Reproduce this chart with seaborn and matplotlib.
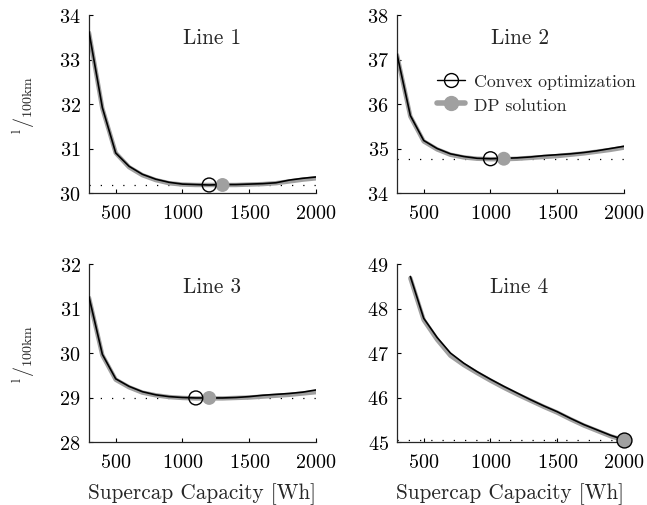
import matplotlib
matplotlib.use("Agg")
import matplotlib.pyplot as plt
import numpy as np
import pandas as pd
import seaborn as sns
from matplotlib.lines import Line2D

# supercap capacity grid [Wh]
cap = [300, 400, 500, 600, 700, 800, 900, 1000, 1100, 1200, 1300, 1400,
       1500, 1600, 1700, 1800, 1900, 2000]
cap4 = cap[1:]

# convex optimization results, l/100km
line1_cvx = [33.62, 31.92, 30.90, 30.60, 30.42, 30.31, 30.24, 30.20, 30.19, 30.18,
             30.19, 30.19, 30.20, 30.21, 30.23, 30.29, 30.33, 30.36]
line2_cvx = [37.12, 35.74, 35.18, 35.00, 34.88, 34.82, 34.78, 34.77, 34.78, 34.79,
             34.81, 34.84, 34.86, 34.88, 34.91, 34.95, 35.00, 35.05]
line3_cvx = [31.26, 29.97, 29.42, 29.25, 29.13, 29.06, 29.02, 29.00, 28.99, 28.99,
             28.99, 29.00, 29.02, 29.05, 29.07, 29.09, 29.12, 29.17]
line4_cvx = [48.72, 47.78, 47.35, 47.00, 46.77, 46.58, 46.41, 46.25, 46.10, 45.95,
             45.81, 45.68, 45.53, 45.39, 45.27, 45.15, 45.05]

# DP solutions
line1_dp = [33.60, 31.90, 30.90, 30.58, 30.40, 30.29, 30.22, 30.19, 30.18, 30.18,
            30.18, 30.18, 30.19, 30.20, 30.22, 30.26, 30.30, 30.33]
line2_dp = [37.10, 35.72, 35.16, 34.98, 34.86, 34.80, 34.77, 34.76, 34.76, 34.77,
            34.79, 34.81, 34.83, 34.86, 34.89, 34.93, 34.97, 35.02]
line3_dp = [31.24, 29.95, 29.40, 29.23, 29.11, 29.05, 29.01, 28.99, 28.98, 28.98,
            28.98, 28.99, 29.00, 29.02, 29.04, 29.06, 29.09, 29.12]
line4_dp = [48.68, 47.74, 47.30, 46.94, 46.73, 46.55, 46.38, 46.22, 46.07, 45.93,
            45.79, 45.66, 45.51, 45.37, 45.25, 45.13, 45.04]

# optimal capacity found by each method
cvx_opt = [1200, 1000, 1100, 2000]
dp_opt = [1300, 1100, 1200, 2000]
opt_val = [30.18, 34.77, 28.99, 45.05]

titles = ["Line 1", "Line 2", "Line 3", "Line 4"]
ylims = [(30, 34), (34, 38), (28, 32), (45, 49)]

GREY = "#a0a0a0"
FS = 14.5

sns.set_style("ticks")
plt.rcParams["font.family"] = ["cmr10"]
plt.rcParams["mathtext.fontset"] = "cm"
plt.rcParams["axes.formatter.use_mathtext"] = True
plt.rcParams["xtick.direction"] = "in"
plt.rcParams["ytick.direction"] = "in"

fig = plt.figure(figsize=(6.47, 5.06), dpi=100)
W, H = 647, 506
boxes = [(89, 16, 227, 178), (397, 16, 227, 178),
         (89, 265, 227, 178), (397, 265, 227, 178)]

series = [(cap, line1_cvx, line1_dp), (cap, line2_cvx, line2_dp),
          (cap, line3_cvx, line3_dp), (cap4, line4_cvx, line4_dp)]

for i, (x0, y0, w, h) in enumerate(boxes):
    ax = fig.add_axes([x0 / W, 1 - (y0 + h) / H, w / W, h / H])
    xs, yc, yd = series[i]
    df = pd.DataFrame({"cap": xs, "cvx": yc, "dp": yd})

    ax.plot([300, 2000], [opt_val[i]] * 2, color="black", lw=0.9,
            ls=(0, (1, 8)), zorder=1)
    sns.lineplot(data=df, x="cap", y="dp", ax=ax, color=GREY, lw=3.2,
                 zorder=2)
    sns.lineplot(data=df, x="cap", y="cvx", ax=ax, color="black", lw=1.2,
                 zorder=3)
    if i < 3:
        sns.scatterplot(x=[dp_opt[i]], y=[opt_val[i]], ax=ax, color=GREY,
                        s=100, edgecolor="none", zorder=4)
        sns.scatterplot(x=[cvx_opt[i]], y=[opt_val[i]], ax=ax, facecolor="none",
                        edgecolor="black", linewidth=1, s=100, zorder=5)
    else:
        sns.scatterplot(x=[dp_opt[i]], y=[opt_val[i]], ax=ax, color=GREY,
                        s=115, edgecolor="black", linewidth=1, zorder=6)

    ax.set_xlim(300, 2000)
    ax.set_ylim(*ylims[i])
    ax.set_xticks([500, 1000, 1500, 2000])
    ax.set_yticks(np.arange(ylims[i][0], ylims[i][1] + 1, 1))
    ax.tick_params(labelsize=FS, length=3, width=0.8, colors="black")
    ax.tick_params(axis="x", pad=8)
    ax.tick_params(axis="y", pad=6)
    for c in ax.collections:
        c.set_clip_on(False)
    sns.despine(ax=ax)
    for s in ["left", "bottom"]:
        ax.spines[s].set_linewidth(0.9)
    ax.set_ylabel("")
    ax.set_xlabel("Supercap Capacity [Wh]" if i >= 2 else "", fontsize=FS + 0.8,
                  labelpad=8)
    ax.text(0.54, 0.875, titles[i], transform=ax.transAxes, ha="center",
            va="center", fontsize=FS + 0.8)
    if i in (0, 2):
        ax.set_ylabel(r"$^{\mathrm{l}}/_{\mathrm{100km}}$", fontsize=FS,
                      labelpad=16)
    if i == 1:
        handles = [
            Line2D([], [], color="black", lw=1, marker="o", mfc="none",
                   mec="black", ms=10),
            Line2D([], [], color=GREY, lw=4, marker="o", mfc=GREY,
                   mec=GREY, ms=10),
        ]
        ax.legend(handles, ["Convex optimization", "DP solution"],
                  loc="upper left", bbox_to_anchor=(0.145, 0.71), frameon=False,
                  fontsize=12.8, handlelength=1.6, handletextpad=0.5,
                  borderaxespad=0, labelspacing=0.45)

fig.savefig("out.png", dpi=100)
